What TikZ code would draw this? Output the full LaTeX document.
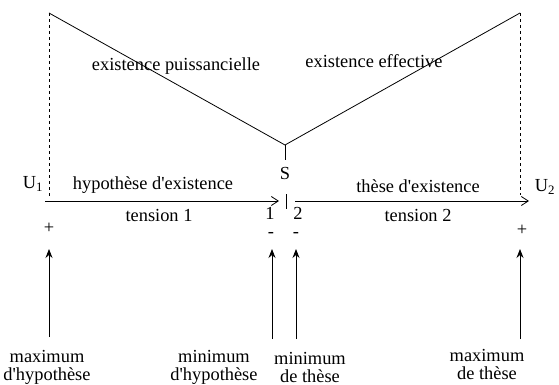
\documentclass[tikz,border=0pt]{standalone}
\usepackage{fontspec}
\setmainfont{Liberation Serif}
\usetikzlibrary{arrows.meta}
\tikzset{
	lbl/.style={inner sep=0pt, font=\fontsize{18.4}{18}\selectfont},
	stack/.style={lbl, align=center},
	guide/.style={dashed, line width=0.7pt},
	tensionarrow/.style={-{Straight Barb[length=7pt,width=9pt]}, line width=0.8pt},
	pointer/.style={-{Stealth[length=9pt,width=7pt,inset=3pt]}, line width=0.8pt}
}
\newcommand{\apos}{\textquotesingle}
\begin{document}
\begin{tikzpicture}[x=1pt,y=-1pt]
	\useasboundingbox (0,0) rectangle (559,385);
	% the V of the two existences
	\coordinate (U1top) at (49,13);
	\coordinate (U1foot) at (49,197);
	\coordinate (U2top) at (520,13);
	\coordinate (U2foot) at (520,195);
	\coordinate (vertex) at (285,145);
	\coordinate (stem) at (285,160);
	\draw[line width=0.8pt] (U1top) -- (vertex) -- (U2top);
	\draw[guide] (U1top) -- (U1foot);
	\draw[guide] (U2top) -- (U2foot);
	\draw[line width=0.8pt] (vertex) -- (stem);
	\node[lbl] (S) at (285,173) {S};
	\coordinate (cutA) at (286,194);
	\coordinate (cutB) at (286,209);
	\draw[line width=0.8pt] (cutA) -- (cutB);
	\node[lbl] (puiss) at (176,66) {existence puissancielle};
	\node[lbl] (effect) at (374,61) {existence effective};
	% the two tensions
	\coordinate (t1start) at (45,201);
	\coordinate (t1end) at (279,201);
	\coordinate (t2start) at (295,201);
	\coordinate (t2end) at (529,201);
	\draw[tensionarrow] (t1start) -- (t1end);
	\draw[tensionarrow] (t2start) -- (t2end);
	\node[lbl] (U1) at (33,184) {U\textsubscript{1}};
	\node[lbl] (U2) at (545,187) {U\textsubscript{2}};
	\node[lbl] (hyp) at (153,185) {hypothèse d\apos existence};
	\node[lbl] (these) at (418,186) {thèse d\apos existence};
	\node[lbl] (tens1) at (159,215) {tension 1};
	\node[lbl] (tens2) at (418,215) {tension 2};
	\node[lbl] (one) at (270,213) {1};
	\node[lbl] (two) at (298,213) {2};
	\node[lbl] (plusL) at (49,228) {+};
	\node[lbl] (minusA) at (271,235) {-};
	\node[lbl] (minusB) at (296,235) {-};
	\node[lbl] (plusR) at (522,230) {+};
	% pointers from below
	\node[stack] (maxhyp) at (47,367) {maximum\\d\apos hypothèse};
	\node[stack] (minhyp) at (214,367) {minimum\\d\apos hypothèse};
	\node[stack] (minthese) at (310,367) {minimum\\de thèse};
	\node[stack] (maxthese) at (487,364) {maximum\\de thèse};
	\coordinate (p1) at (49,337);
	\coordinate (p2) at (272,339);
	\coordinate (p3) at (296,339);
	\coordinate (p4) at (520,339);
	\draw[pointer] (p1) -- (p1 |- 0,249);
	\draw[pointer] (p2) -- (p2 |- 0,249);
	\draw[pointer] (p3) -- (p3 |- 0,249);
	\draw[pointer] (p4) -- (p4 |- 0,249);
\end{tikzpicture}
\end{document}
